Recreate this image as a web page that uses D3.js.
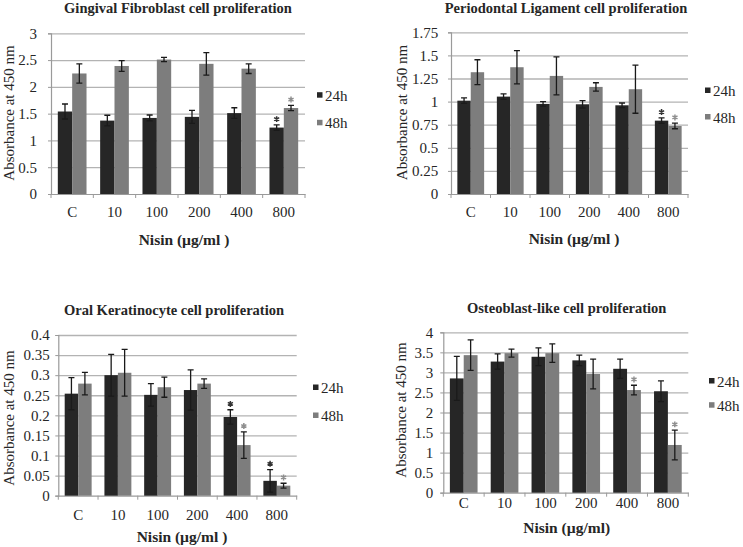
<!DOCTYPE html>
<html>
<head>
<meta charset="utf-8">
<script src="https://cdn.jsdelivr.net/npm/d3@7"></script>
<style>
  body { margin: 0; background: #fff; }
</style>
</head>
<body>
<div id="chart"></div>
<script>
var categories = ["C", "10", "100", "200", "400", "800"];
var seriesNames = ["24h", "48h"];

// Gingival Fibroblast
var gf24 = [1.54, 1.37, 1.42, 1.44, 1.51, 1.24];
var gf24Err = [0.14, 0.10, 0.055, 0.12, 0.10, 0.05];
var gf48 = [2.25, 2.39, 2.51, 2.43, 2.34, 1.605];
var gf48Err = [0.18, 0.10, 0.04, 0.21, 0.09, 0.05];
var gf24Star = [0, 0, 0, 0, 0, 1];
var gf48Star = [0, 0, 0, 0, 0, 1];
var gfTicks = [0, 0.5, 1, 1.5, 2, 2.5, 3];

// Periodontal Ligament
var pl24 = [1.01, 1.054, 0.975, 0.971, 0.96, 0.794];
var pl24Err = [0.03, 0.03, 0.025, 0.04, 0.025, 0.03];
var pl48 = [1.318, 1.372, 1.278, 1.159, 1.134, 0.736];
var pl48Err = [0.135, 0.18, 0.205, 0.045, 0.26, 0.03];
var pl24Star = [0, 0, 0, 0, 0, 1];
var pl48Star = [0, 0, 0, 0, 0, 1];
var plTicks = [0, 0.25, 0.5, 0.75, 1, 1.25, 1.5, 1.75];

// Oral Keratinocyte
var ok24 = [0.254, 0.300, 0.251, 0.263, 0.196, 0.037];
var ok24Err = [0.04, 0.052, 0.028, 0.05, 0.018, 0.028];
var ok48 = [0.279, 0.306, 0.27, 0.279, 0.126, 0.025];
var ok48Err = [0.028, 0.058, 0.025, 0.012, 0.033, 0.006];
var ok24Star = [0, 0, 0, 0, 1, 1];
var ok48Star = [0, 0, 0, 0, 1, 1];
var okTicks = [0, 0.05, 0.1, 0.15, 0.2, 0.25, 0.3, 0.35, 0.4];

// Osteoblast-like
var ob24 = [2.85, 3.27, 3.39, 3.30, 3.09, 2.53];
var ob24Err = [0.55, 0.19, 0.22, 0.13, 0.24, 0.26];
var ob48 = [3.43, 3.48, 3.48, 2.96, 2.56, 1.19];
var ob48Err = [0.38, 0.10, 0.23, 0.37, 0.12, 0.37];
var ob24Star = [0, 0, 0, 0, 0, 0];
var ob48Star = [0, 0, 0, 0, 1, 1];
var obTicks = [0, 0.5, 1, 1.5, 2, 2.5, 3, 3.5, 4];

var titles = [
  "Gingival Fibroblast cell proliferation",
  "Periodontal Ligament cell proliferation",
  "Oral Keratinocyte cell proliferation",
  "Osteoblast-like cell proliferation"
];
var xTitles = ["Nisin (\u00b5g/ml )", "Nisin (\u00b5g/ml )", "Nisin (\u00b5g/ml )", "Nisin (\u00b5g/ml)"];
var yTitle = "Absorbance at 450 nm";

var serif = '"Liberation Serif", "Times New Roman", Times, "DejaVu Serif", serif';
var colors = { "24h": "#262626", "48h": "#7d7d7d" };
var starColors = { "24h": "#333333", "48h": "#8f8f8f" };

// where each panel sits on the page
var panels = [
  { l: 51, r: 305, t: 33.3, b: 194, tx: 178, ty: 13, yx: 14, yy: 113, gap: 14, xty: 218, xx: 184, xy: 245,
    lx: 317, ly: [100.7, 128.3],
    data: [gf24, gf48], err: [gf24Err, gf48Err], stars: [gf24Star, gf48Star], ticks: gfTicks },
  { l: 451, r: 688, t: 32.3, b: 194, tx: 566, ty: 13, yx: 406.5, yy: 112.5, gap: 12.7, xty: 218, xx: 574, xy: 244,
    lx: 705, ly: [96, 122.5],
    data: [pl24, pl48], err: [pl24Err, pl48Err], stars: [pl24Star, pl48Star], ticks: plTicks },
  { l: 58.3, r: 296.7, t: 335, b: 495.7, tx: 174, ty: 315, yx: 14, yy: 418, gap: 8.5, xty: 521, xx: 182, xy: 542,
    lx: 313, ly: [393, 421],
    data: [ok24, ok48], err: [ok24Err, ok48Err], stars: [ok24Star, ok48Star], ticks: okTicks },
  { l: 443.3, r: 688.3, t: 332.3, b: 492.7, tx: 566.7, ty: 313, yx: 406, yy: 410, gap: 10, xty: 509, xx: 566.7, xy: 533,
    lx: 709, ly: [386.5, 410.7],
    data: [ob24, ob48], err: [ob24Err, ob48Err], stars: [ob24Star, ob48Star], ticks: obTicks }
];

var svg = d3.select("#chart")
  .append("svg")
    .attr("width", 743)
    .attr("height", 547);

var starShape = d3.symbol().type(d3.symbolAsterisk || d3.symbolCross).size(24);

panels.forEach(function (p, i) {
  var g = svg.append("g");
  var ticks = p.ticks;

  var x0 = d3.scaleBand().domain(categories).range([p.l, p.r]).padding(0);
  var x1 = d3.scaleBand().domain(seriesNames).range([0, x0.bandwidth()]).paddingInner(0).paddingOuter(0.475);
  var y = d3.scaleLinear().domain([0, ticks[ticks.length - 1]]).range([p.b, p.t]);

  // gridlines
  g.append("g")
    .attr("transform", "translate(" + p.l + ",0)")
    .call(d3.axisLeft(y).tickValues(ticks.slice(1)).tickSize(-(p.r - p.l)).tickFormat(""))
    .call(function (a) {
      a.select(".domain").remove();
      a.selectAll("line").attr("stroke", "#b3b3b3").attr("stroke-width", 1.3);
    });

  // y axis with labels
  g.append("g")
    .attr("transform", "translate(" + p.l + ",0)")
    .call(d3.axisLeft(y).tickValues(ticks).tickSize(3).tickPadding(p.gap - 3)
      .tickFormat(function (d) { return String(d); }))
    .call(function (a) {
      a.select(".domain").attr("stroke", "#9a9a9a").attr("stroke-width", 1.2);
      a.selectAll("line").attr("stroke", "#9a9a9a");
      a.selectAll("text").style("font-size", "15px");
    });

  // x axis
  g.append("g")
    .attr("transform", "translate(0," + p.b + ")")
    .call(d3.axisBottom(x0).tickSize(0).tickPadding(p.xty - p.b - 11.5))
    .call(function (a) {
      a.select(".domain").attr("stroke", "#9a9a9a").attr("stroke-width", 1.2);
      a.selectAll("text").style("font-size", "15px");
    });

  // boundary ticks on x axis
  var bounds = categories.map(function (c) { return x0(c); }).concat([p.r]);
  g.selectAll(".xb")
    .data(bounds)
    .enter().append("line")
      .attr("x1", function (d) { return d; })
      .attr("x2", function (d) { return d; })
      .attr("y1", p.b)
      .attr("y2", p.b + 4)
      .attr("stroke", "#9a9a9a");

  // bars, error bars and stars
  seriesNames.forEach(function (s, si) {
    var rows = categories.map(function (c, ci) {
      return { cat: c, v: p.data[si][ci], e: p.err[si][ci], star: p.stars[si][ci] };
    });
    var sg = g.append("g");
    sg.selectAll("rect")
      .data(rows)
      .enter().append("rect")
        .attr("x", function (d) { return x0(d.cat) + x1(s); })
        .attr("y", function (d) { return y(d.v); })
        .attr("width", x1.bandwidth())
        .attr("height", function (d) { return p.b - y(d.v); })
        .attr("fill", colors[s]);

    var cx = function (d) { return x0(d.cat) + x1(s) + x1.bandwidth() / 2; };
    sg.selectAll(".eb")
      .data(rows)
      .enter().append("path")
        .attr("d", function (d) {
          var xc = cx(d), yt = y(d.v + d.e), yb = y(d.v - d.e);
          return "M" + xc + "," + yt + "V" + yb +
            "M" + (xc - 3) + "," + yt + "H" + (xc + 3) +
            "M" + (xc - 3) + "," + yb + "H" + (xc + 3);
        })
        .attr("stroke", "#1a1a1a")
        .attr("stroke-width", 1.3)
        .attr("fill", "none");

    sg.selectAll(".st")
      .data(rows.filter(function (d) { return d.star; }))
      .enter().append("path")
        .attr("transform", function (d) { return "translate(" + cx(d) + "," + (y(d.v + d.e) - 5.8) + ")"; })
        .attr("d", starShape)
        .attr("fill", "none")
        .attr("stroke", starColors[s])
        .attr("stroke-width", 1.5);

    // legend
    g.append("rect")
      .attr("x", p.lx)
      .attr("y", p.ly[si] - 8.5)
      .attr("width", 5.5)
      .attr("height", 5.5)
      .attr("fill", colors[s]);
    g.append("text")
      .attr("x", p.lx + 8)
      .attr("y", p.ly[si])
      .style("font-size", "15px")
      .text(s);
  });

  // titles
  g.append("text")
    .attr("x", p.tx)
    .attr("y", p.ty)
    .attr("text-anchor", "middle")
    .style("font-size", "14.5px")
    .style("font-weight", "bold")
    .text(titles[i]);

  g.append("text")
    .attr("x", p.xx)
    .attr("y", p.xy)
    .attr("text-anchor", "middle")
    .style("font-size", "15.5px")
    .style("font-weight", "bold")
    .text(xTitles[i]);

  g.append("text")
    .attr("transform", "translate(" + p.yx + "," + p.yy + ") rotate(-90)")
    .attr("text-anchor", "middle")
    .style("font-size", "15px")
    .text(yTitle);
});

svg.selectAll("text")
  .style("font-family", serif)
  .style("fill", "#262626");
</script>
</body>
</html>
